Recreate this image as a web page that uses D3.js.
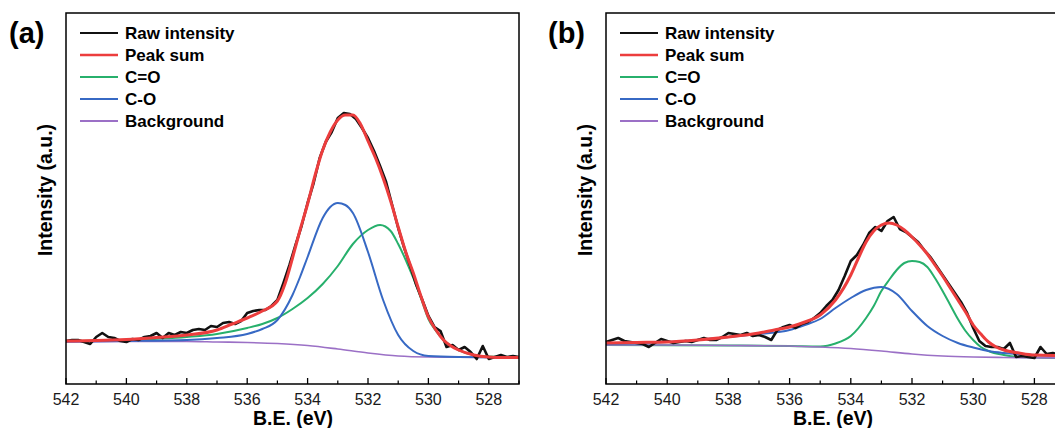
<!DOCTYPE html>
<html>
<head>
  <meta charset="utf-8">
  <title>O 1s XPS</title>
  <style>
    body {
      margin: 0;
      background: #fff;
      font-family: "Liberation Sans", Arial, sans-serif;
    }
  </style>
  <script src="https://d3js.org/d3.v7.min.js"></script>
</head>
<body>
  <svg id="chart" width="1055" height="428"></svg>

  <script>
    var width = 1055,
        height = 428;

    // tick values on the B.E. axis
    var majorTicks = [542, 540, 538, 536, 534, 532, 530, 528];
    var minorTicks = [541, 539, 537, 535, 533, 531, 529, 527];
    var legendLabels = ["Raw intensity", "Peak sum", "C=O", "C-O", "Background"];
    var legendColors = ["#111111", "#ec3d3d", "#27b06c", "#3769c4", "#9b70c6"];

    // panel (a), [B.E. eV, intensity a.u.]
    var rawA = [
      [542.0,43],[541.8,44],[541.6,44],[541.4,42],[541.2,40],[541.0,47],[540.8,51],[540.6,47],
      [540.4,46],[540.2,43],[540.0,42],[539.8,45],[539.6,44],[539.4,47],[539.2,48],[539.0,51],
      [538.8,46],[538.6,51],[538.4,49],[538.2,52],[538.0,51],[537.8,54],[537.6,55],[537.4,54],
      [537.2,58],[537.0,57],[536.8,61],[536.6,62],[536.4,60],[536.2,63],[536.0,71],[535.8,73],
      [535.6,74],[535.4,74],[535.2,78],[535.0,84],[534.8,101],[534.6,119],[534.4,139],[534.2,158],
      [534.0,181],[533.8,201],[533.6,226],[533.4,242],[533.2,252],[533.0,266],[532.8,271],[532.6,270],
      [532.4,265],[532.2,256],[532.0,246],[531.8,233],[531.6,218],[531.4,202],[531.2,179],[531.0,156],
      [530.8,136],[530.6,118],[530.4,99],[530.2,84],[530.0,68],[529.8,57],[529.6,53],[529.4,37],
      [529.2,39],[529.0,34],[528.8,37],[528.6,32],[528.4,25],[528.2,38],[528.0,25],[527.8,27],
      [527.6,29],[527.4,27],[527.2,28],[527.0,27]
    ];
    var sumA = [
      [542,43],[541,43.5],[540,44.5],[539,46.5],[538,49],[537,54],[536.5,60],[536,66],[535.5,73],
      [535,83],[534.75,100],[534.5,126],[534.25,154],[534,180],[533.75,209],[533.5,234],[533.25,252],
      [533,264],[532.75,269],[532.5,269],[532.25,260],[532,243],[531.75,226],[531.5,206],[531.25,183],
      [531,157],[530.75,132],[530.5,111],[530.25,88],[530,67],[529.75,54],[529.5,44],[529.25,38],
      [529,34],[528.5,29],[528,27],[527.5,26.5],[527,26.5]
    ];
    var cdoA = [
      [542,43],[540,44],[538,47],[537,50],[536,56],[535.5,60],[535,66],[534.5,75],[534,86],
      [533.5,100],[533,118],[532.5,140],[532,154],[531.6,159],[531.25,153],[531,140],[530.75,124],
      [530.5,106],[530.25,86],[530,65],[529.75,53],[529.5,44],[529,34],[528.5,29],[528,27.5],[527,27]
    ];
    var cooA = [
      [542,42.5],[540,43],[538,44],[537,46],[536,50],[535.5,55],[535,64],[534.5,89],[534.25,107],
      [534,127],[533.5,166],[533.25,177],[533,181],[532.75,179],[532.5,171],[532,132],[531.5,84],
      [531,49],[530.5,33],[530,28],[529,27],[527,26.5]
    ];
    var bgA = [
      [542,42],[540,42.5],[538,42.5],[537,42],[536,41.5],[535,40.5],[534,38.5],[533,35],
      [532,31],[531,28],[530,27],[529,26.8],[527,26.5]
    ];

    // panel (b)
    var rawB = [
      [542.0,42],[541.8,44],[541.6,46],[541.4,43],[541.2,42],[541.0,41],[540.8,40],[540.6,37],
      [540.4,41],[540.2,45],[540.0,43],[539.8,41],[539.6,42],[539.4,43],[539.2,42],[539.0,44],
      [538.8,46],[538.6,44],[538.4,44],[538.2,47],[538.0,51],[537.8,50],[537.6,49],[537.4,51],
      [537.2,48],[537.0,49],[536.8,47],[536.6,44],[536.4,54],[536.2,57],[536.0,59],[535.8,56],
      [535.6,60],[535.4,62],[535.2,66],[535.0,71],[534.8,78],[534.6,84],[534.4,94],[534.2,108],
      [534.0,123],[533.8,129],[533.6,139],[533.4,151],[533.2,157],[533.0,153],[532.8,163],[532.6,167],
      [532.4,155],[532.2,152],[532.0,147],[531.8,142],[531.6,134],[531.4,127],[531.2,118],[531.0,109],
      [530.8,100],[530.6,91],[530.4,82],[530.2,71],[530.0,56],[529.8,43],[529.6,38],[529.4,37],
      [529.2,37],[529.0,35],[528.8,41],[528.6,27],[528.4,28],[528.2,27],[528.0,26],[527.8,37],
      [527.6,30],[527.4,31],[527.2,29],[527.0,29]
    ];
    var sumB = [
      [542,41],[541,41.5],[540,42],[539,44],[538,47],[537,51],[536.5,54],[536,57],[535.5,62],
      [535,69],[534.5,84],[534,109],[533.75,126],[533.5,142],[533.25,153],[533,159],[532.75,161],
      [532.5,159],[532.25,154],[532,147],[531.75,139],[531.5,130],[531.25,119],[531,108],[530.75,96],
      [530.5,84],[530.25,72],[530,59],[529.75,50],[529.5,42],[529.25,37],[529,34],[528.5,31],
      [528,29],[527,28.5]
    ];
    var cdoB = [
      [542,39],[538,38.5],[536,38],[535,37.5],[534.5,40.5],[534,48],[533.5,66],[533.25,78],
      [533,93],[532.75,104],[532.5,114],[532.25,121],[532,123],[531.75,122],[531.5,117],[531.25,106],
      [531,93],[530.75,79],[530.5,65],[530.25,53],[530,44],[529.75,37],[529.5,33],[529,29],
      [528.5,27],[528,26.5],[527,26]
    ];
    var cooB = [
      [542,40],[540,42],[538,47],[537,50],[536,54],[535.5,59],[535,65],[534.5,76],[534,86],
      [533.5,94],[533,97],[532.5,90],[532,73],[531.5,58],[531,48],[530.5,41],[530,36.5],
      [529.5,33],[529,31],[528,29],[527,27.5]
    ];
    var bgB = [
      [542,39],[540,39],[538,38.5],[536,38],[535,37],[534,35.5],[533,33],[532,30],[531,28],
      [530,27],[529,26.5],[527,26]
    ];

    var svg = d3.select("#chart");
    svg.append("rect").attr("width", width).attr("height", height).attr("fill", "#fff");

    function drawPanel(left, right, tag, raw, sum, cdo, coo, bg, tagX) {
      var top = 13, bottom = 384;
      var x = d3.scaleLinear().domain([542, 527]).range([left, right]);
      var y = d3.scaleLinear().domain([0, 371]).range([bottom, top]);

      var g = svg.append("g");

      var smooth = d3.line().x(d => x(d[0])).y(d => y(d[1])).curve(d3.curveMonotoneX);
      var jagged = d3.line().x(d => x(d[0])).y(d => y(d[1]));

      g.append("path").attr("d", smooth(cdo)).attr("fill", "none")
          .attr("stroke", legendColors[2]).attr("stroke-width", 2);
      g.append("path").attr("d", smooth(bg)).attr("fill", "none")
          .attr("stroke", legendColors[4]).attr("stroke-width", 1.6);
      g.append("path").attr("d", smooth(coo)).attr("fill", "none")
          .attr("stroke", legendColors[3]).attr("stroke-width", 2);
      g.append("path").attr("d", jagged(raw)).attr("fill", "none")
          .attr("stroke", legendColors[0]).attr("stroke-width", 2.6)
          .attr("stroke-linejoin", "round");
      g.append("path").attr("d", smooth(sum)).attr("fill", "none")
          .attr("stroke", legendColors[1]).attr("stroke-width", 3);

      // frame
      g.append("rect")
          .attr("x", left).attr("y", top)
          .attr("width", right - left).attr("height", bottom - top)
          .attr("fill", "none").attr("stroke", "#000").attr("stroke-width", 1.5);

      // inward ticks on the bottom axis
      g.selectAll(".major").data(majorTicks).join("line")
          .attr("x1", d => x(d)).attr("x2", d => x(d))
          .attr("y1", bottom).attr("y2", bottom - 6)
          .attr("stroke", "#000").attr("stroke-width", 1.3);
      g.selectAll(".minor").data(minorTicks).join("line")
          .attr("x1", d => x(d)).attr("x2", d => x(d))
          .attr("y1", bottom).attr("y2", bottom - 3.5)
          .attr("stroke", "#000").attr("stroke-width", 1.2);

      g.selectAll(".tl").data(majorTicks).join("text")
          .attr("x", d => x(d)).attr("y", 405)
          .attr("text-anchor", "middle")
          .attr("font-size", 16).attr("fill", "#1a1a1a")
          .text(d => d);

      g.append("text")
          .attr("x", (left + (left + 454)) / 2).attr("y", 425)
          .attr("text-anchor", "middle")
          .attr("font-size", 19.5).attr("font-weight", "bold")
          .text("B.E. (eV)");

      g.append("text")
          .attr("transform", "translate(" + (left - 14) + ",190) rotate(-90)")
          .attr("text-anchor", "middle")
          .attr("font-size", 19.5).attr("font-weight", "bold")
          .text("Intensity (a.u.)");

      g.append("text")
          .attr("x", tagX).attr("y", 43)
          .attr("font-size", 29).attr("font-weight", "bold")
          .text(tag);

      // legend
      var lg = g.selectAll(".lg").data(legendLabels).join("g")
          .attr("transform", (d, i) => "translate(" + (left + 14) + "," + (33 + i * 22) + ")");
      lg.append("line")
          .attr("x1", 0).attr("x2", 38)
          .attr("stroke", (d, i) => legendColors[i])
          .attr("stroke-width", (d, i) => i === 1 ? 2.4 : 2);
      lg.append("text")
          .attr("x", 45).attr("y", 6)
          .attr("font-size", 17).attr("font-weight", "bold")
          .text(d => d);
    }

    drawPanel(66, 519, "(a)", rawA, sumA, cdoA, cooA, bgA, 9);
    drawPanel(606, 1065, "(b)", rawB, sumB, cdoB, cooB, bgB, 548);
  </script>
</body>
</html>
